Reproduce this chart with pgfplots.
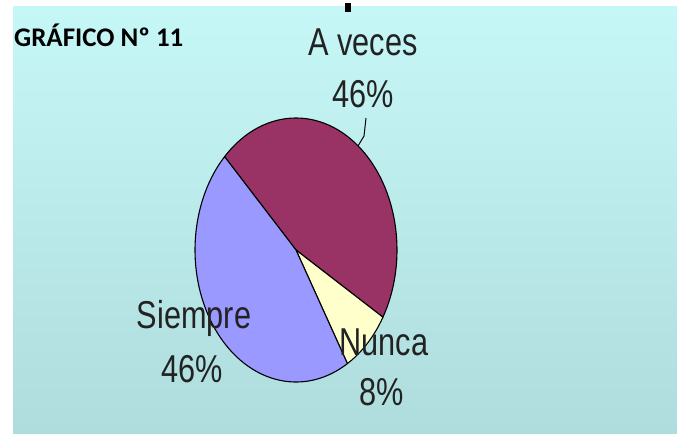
\documentclass[border=0pt]{standalone}
\usepackage{fontspec}
\setmainfont{Liberation Sans}
\newfontfamily\titlefont{Carlito}
\usepackage{pgfplots}
\usepackage{pgfplotstable}
\pgfplotsset{compat=1.18}

\definecolor{bgtop}{HTML}{C6F7F7}
\definecolor{bgbot}{HTML}{AFDCDC}
\definecolor{aveces}{HTML}{993366}
\definecolor{nunca}{HTML}{FFFFCC}
\definecolor{siempre}{HTML}{9999FF}
\definecolor{lbl}{HTML}{222222}

% shares in percent, clockwise from the upper left
\pgfplotstableread{
label value color
Aveces 46 aveces
Nunca 8 nunca
Siempre 46 siempre
}\piedata

\tikzset{lab/.style={font=\fontsize{39}{40}\selectfont, xscale=0.79, text=lbl, inner sep=0pt}}

\begin{document}
\begin{tikzpicture}
\begin{axis}[
  hide axis,
  scale only axis,
  width=677bp, height=434bp,
  xmin=0, xmax=677, ymin=0, ymax=434,
  clip=false,
]
\fill[white] (axis cs:0,0) rectangle (axis cs:677,434);
\fill[top color=bgtop, bottom color=bgbot] (axis cs:13,0) rectangle (axis cs:677,427);
\fill[black] (axis cs:345,422) rectangle (axis cs:351,431);

\def\angstart{135}
\pgfplotsforeachungrouped \i in {0,1,2}{%
  \pgfplotstablegetelem{\i}{value}\of\piedata \let\val\pgfplotsretval
  \pgfplotstablegetelem{\i}{color}\of\piedata \let\col\pgfplotsretval
  \pgfmathsetmacro\angend{\angstart-3.6*\val}%
  \edef\cmd{\noexpand\filldraw[fill=\col, draw=black, line width=1.1bp, line join=round]
    (axis cs:296,184) -- ++(\angstart:101bp and 132bp)
    arc[start angle=\angstart, end angle=\angend, x radius=101bp, y radius=132bp] -- cycle;}%
  \cmd
  \let\angstart\angend
}

\draw[black, line width=1bp] (axis cs:366,316) -- (axis cs:364,298) -- (axis cs:358,288);

\node[lab] at (axis cs:363,392) {A veces};
\node[lab] at (axis cs:363,340) {46\%};
\node[lab] at (axis cs:194,116) {Siempre};
\node[lab] at (axis cs:192,65) {46\%};
\node[lab] at (axis cs:384,92) {Nunca};
\node[lab] at (axis cs:382,42) {8\%};

\node[anchor=west, inner sep=0pt, font=\titlefont\bfseries\fontsize{27}{29}\selectfont]
  at (axis cs:14,399) {GRÁFICO Nº 11};
\end{axis}
\end{tikzpicture}
\end{document}
